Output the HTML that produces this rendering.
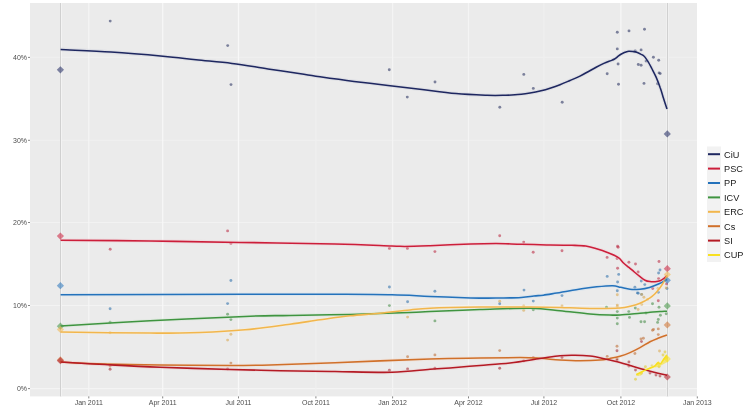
<!DOCTYPE html><html><head><meta charset="utf-8"><style>html,body{margin:0;padding:0;background:#fff;width:750px;height:417px;overflow:hidden}svg{display:block}text{font-family:"Liberation Sans",sans-serif}.g{filter:grayscale(1)}</style></head><body>
<svg width="750" height="417" viewBox="0 0 750 417">
<rect x="30" y="3" width="667" height="393.4" fill="#ebebeb"/>
<line x1="30" x2="697" y1="388.6" y2="388.6" stroke="#f4f4f4" stroke-width="1.2"/>
<line x1="30" x2="697" y1="305.5" y2="305.5" stroke="#f3f3f3" stroke-width="1.2"/>
<line x1="30" x2="697" y1="222.5" y2="222.5" stroke="#f2f2f2" stroke-width="1.2"/>
<line x1="30" x2="697" y1="140.3" y2="140.3" stroke="#efefef" stroke-width="1.2"/>
<line x1="30" x2="697" y1="57.4" y2="57.4" stroke="#efefef" stroke-width="1.2"/>
<line x1="88.8" x2="88.8" y1="3" y2="396.4" stroke="#f5f5f5" stroke-width="1.2"/>
<line x1="162.7" x2="162.7" y1="3" y2="396.4" stroke="#f8f8f8" stroke-width="1.2"/>
<line x1="238.5" x2="238.5" y1="3" y2="396.4" stroke="#f8f8f8" stroke-width="1.2"/>
<line x1="315.9" x2="315.9" y1="3" y2="396.4" stroke="#efefef" stroke-width="1.2"/>
<line x1="392.6" x2="392.6" y1="3" y2="396.4" stroke="#f4f4f4" stroke-width="1.2"/>
<line x1="468.5" x2="468.5" y1="3" y2="396.4" stroke="#f4f4f4" stroke-width="1.2"/>
<line x1="543.9" x2="543.9" y1="3" y2="396.4" stroke="#efefef" stroke-width="1.2"/>
<line x1="620.9" x2="620.9" y1="3" y2="396.4" stroke="#f8f8f8" stroke-width="1.2"/>
<line x1="61.5" x2="61.5" y1="3" y2="396.4" stroke="#f3f3f3" stroke-width="1"/>
<line x1="666.5" x2="666.5" y1="3" y2="396.4" stroke="#f0f0f0" stroke-width="1"/>
<line x1="668.5" x2="668.5" y1="3" y2="396.4" stroke="#f0f0f0" stroke-width="1"/>
<line x1="60.5" x2="60.5" y1="3" y2="396.4" stroke="#d0d0d0" stroke-width="1"/>
<line x1="667.5" x2="667.5" y1="3" y2="396.4" stroke="#d0d0d0" stroke-width="1"/>
<circle cx="110.2" cy="21.1" r="1.45" fill="#303865" fill-opacity="0.6"/>
<circle cx="227.7" cy="45.6" r="1.45" fill="#303865" fill-opacity="0.6"/>
<circle cx="231.0" cy="84.6" r="1.45" fill="#303865" fill-opacity="0.6"/>
<circle cx="389.3" cy="69.8" r="1.45" fill="#303865" fill-opacity="0.6"/>
<circle cx="407.3" cy="97.1" r="1.45" fill="#303865" fill-opacity="0.6"/>
<circle cx="435.0" cy="82.0" r="1.45" fill="#303865" fill-opacity="0.6"/>
<circle cx="499.8" cy="107.3" r="1.45" fill="#303865" fill-opacity="0.6"/>
<circle cx="523.8" cy="74.4" r="1.45" fill="#303865" fill-opacity="0.6"/>
<circle cx="533.3" cy="88.4" r="1.45" fill="#303865" fill-opacity="0.6"/>
<circle cx="562.2" cy="102.3" r="1.45" fill="#303865" fill-opacity="0.6"/>
<circle cx="607.2" cy="73.7" r="1.45" fill="#303865" fill-opacity="0.6"/>
<circle cx="617.3" cy="32.2" r="1.45" fill="#303865" fill-opacity="0.6"/>
<circle cx="629.0" cy="30.9" r="1.45" fill="#303865" fill-opacity="0.6"/>
<circle cx="644.5" cy="29.2" r="1.45" fill="#303865" fill-opacity="0.6"/>
<circle cx="617.3" cy="48.9" r="1.45" fill="#303865" fill-opacity="0.6"/>
<circle cx="618.1" cy="64.0" r="1.45" fill="#303865" fill-opacity="0.6"/>
<circle cx="618.5" cy="84.3" r="1.45" fill="#303865" fill-opacity="0.6"/>
<circle cx="635.2" cy="51.0" r="1.45" fill="#303865" fill-opacity="0.6"/>
<circle cx="641.1" cy="49.9" r="1.45" fill="#303865" fill-opacity="0.6"/>
<circle cx="638.3" cy="64.5" r="1.45" fill="#303865" fill-opacity="0.6"/>
<circle cx="641.1" cy="65.3" r="1.45" fill="#303865" fill-opacity="0.6"/>
<circle cx="644.0" cy="83.4" r="1.45" fill="#303865" fill-opacity="0.6"/>
<circle cx="646.1" cy="61.1" r="1.45" fill="#303865" fill-opacity="0.6"/>
<circle cx="653.4" cy="57.2" r="1.45" fill="#303865" fill-opacity="0.6"/>
<circle cx="658.7" cy="60.3" r="1.45" fill="#303865" fill-opacity="0.6"/>
<circle cx="659.1" cy="72.9" r="1.45" fill="#303865" fill-opacity="0.6"/>
<circle cx="660.2" cy="73.6" r="1.45" fill="#303865" fill-opacity="0.6"/>
<circle cx="657.6" cy="83.8" r="1.45" fill="#303865" fill-opacity="0.6"/>
<circle cx="110.2" cy="249.2" r="1.45" fill="#bc3047" fill-opacity="0.6"/>
<circle cx="227.6" cy="230.9" r="1.45" fill="#bc3047" fill-opacity="0.6"/>
<circle cx="230.9" cy="243.4" r="1.45" fill="#bc3047" fill-opacity="0.6"/>
<circle cx="389.4" cy="248.4" r="1.45" fill="#bc3047" fill-opacity="0.6"/>
<circle cx="407.4" cy="248.4" r="1.45" fill="#bc3047" fill-opacity="0.6"/>
<circle cx="434.9" cy="251.6" r="1.45" fill="#bc3047" fill-opacity="0.6"/>
<circle cx="499.7" cy="235.8" r="1.45" fill="#bc3047" fill-opacity="0.6"/>
<circle cx="523.7" cy="242.1" r="1.45" fill="#bc3047" fill-opacity="0.6"/>
<circle cx="533.2" cy="252.3" r="1.45" fill="#bc3047" fill-opacity="0.6"/>
<circle cx="562.0" cy="250.7" r="1.45" fill="#bc3047" fill-opacity="0.6"/>
<circle cx="607.1" cy="257.4" r="1.45" fill="#bc3047" fill-opacity="0.6"/>
<circle cx="618.1" cy="247.2" r="1.45" fill="#bc3047" fill-opacity="0.6"/>
<circle cx="617.6" cy="246.2" r="1.45" fill="#bc3047" fill-opacity="0.6"/>
<circle cx="617.1" cy="258.5" r="1.45" fill="#bc3047" fill-opacity="0.6"/>
<circle cx="617.6" cy="268.2" r="1.45" fill="#bc3047" fill-opacity="0.6"/>
<circle cx="628.9" cy="262.2" r="1.45" fill="#bc3047" fill-opacity="0.6"/>
<circle cx="635.5" cy="264.0" r="1.45" fill="#bc3047" fill-opacity="0.6"/>
<circle cx="638.1" cy="272.0" r="1.45" fill="#bc3047" fill-opacity="0.6"/>
<circle cx="659.0" cy="261.5" r="1.45" fill="#bc3047" fill-opacity="0.6"/>
<circle cx="658.6" cy="278.6" r="1.45" fill="#bc3047" fill-opacity="0.6"/>
<circle cx="652.7" cy="288.5" r="1.45" fill="#bc3047" fill-opacity="0.6"/>
<circle cx="666.6" cy="283.9" r="1.45" fill="#bc3047" fill-opacity="0.6"/>
<circle cx="658.3" cy="300.8" r="1.45" fill="#bc3047" fill-opacity="0.6"/>
<circle cx="110.1" cy="308.8" r="1.45" fill="#3574ae" fill-opacity="0.6"/>
<circle cx="230.9" cy="280.5" r="1.45" fill="#3574ae" fill-opacity="0.6"/>
<circle cx="227.6" cy="303.6" r="1.45" fill="#3574ae" fill-opacity="0.6"/>
<circle cx="389.4" cy="287.0" r="1.45" fill="#3574ae" fill-opacity="0.6"/>
<circle cx="434.9" cy="291.2" r="1.45" fill="#3574ae" fill-opacity="0.6"/>
<circle cx="407.6" cy="301.7" r="1.45" fill="#3574ae" fill-opacity="0.6"/>
<circle cx="499.7" cy="303.8" r="1.45" fill="#3574ae" fill-opacity="0.6"/>
<circle cx="524.0" cy="290.1" r="1.45" fill="#3574ae" fill-opacity="0.6"/>
<circle cx="533.3" cy="301.1" r="1.45" fill="#3574ae" fill-opacity="0.6"/>
<circle cx="562.0" cy="295.6" r="1.45" fill="#3574ae" fill-opacity="0.6"/>
<circle cx="607.2" cy="276.4" r="1.45" fill="#3574ae" fill-opacity="0.6"/>
<circle cx="618.7" cy="274.4" r="1.45" fill="#3574ae" fill-opacity="0.6"/>
<circle cx="617.6" cy="282.0" r="1.45" fill="#3574ae" fill-opacity="0.6"/>
<circle cx="617.3" cy="290.8" r="1.45" fill="#3574ae" fill-opacity="0.6"/>
<circle cx="660.0" cy="270.0" r="1.45" fill="#3574ae" fill-opacity="0.6"/>
<circle cx="658.6" cy="273.0" r="1.45" fill="#3574ae" fill-opacity="0.6"/>
<circle cx="641.3" cy="281.0" r="1.45" fill="#3574ae" fill-opacity="0.6"/>
<circle cx="644.8" cy="284.6" r="1.45" fill="#3574ae" fill-opacity="0.6"/>
<circle cx="634.9" cy="287.2" r="1.45" fill="#3574ae" fill-opacity="0.6"/>
<circle cx="638.2" cy="293.2" r="1.45" fill="#3574ae" fill-opacity="0.6"/>
<circle cx="641.6" cy="294.4" r="1.45" fill="#3574ae" fill-opacity="0.6"/>
<circle cx="637.4" cy="292.9" r="1.45" fill="#3574ae" fill-opacity="0.6"/>
<circle cx="667.0" cy="288.5" r="1.45" fill="#3574ae" fill-opacity="0.6"/>
<circle cx="658.3" cy="292.2" r="1.45" fill="#3574ae" fill-opacity="0.6"/>
<circle cx="110.1" cy="322.3" r="1.45" fill="#4b8f4c" fill-opacity="0.6"/>
<circle cx="227.6" cy="314.2" r="1.45" fill="#4b8f4c" fill-opacity="0.6"/>
<circle cx="230.9" cy="319.6" r="1.45" fill="#4b8f4c" fill-opacity="0.6"/>
<circle cx="389.4" cy="305.6" r="1.45" fill="#4b8f4c" fill-opacity="0.6"/>
<circle cx="434.9" cy="320.9" r="1.45" fill="#4b8f4c" fill-opacity="0.6"/>
<circle cx="533.3" cy="309.8" r="1.45" fill="#4b8f4c" fill-opacity="0.6"/>
<circle cx="606.5" cy="307.3" r="1.45" fill="#4b8f4c" fill-opacity="0.6"/>
<circle cx="617.3" cy="311.6" r="1.45" fill="#4b8f4c" fill-opacity="0.6"/>
<circle cx="617.3" cy="318.1" r="1.45" fill="#4b8f4c" fill-opacity="0.6"/>
<circle cx="617.3" cy="323.8" r="1.45" fill="#4b8f4c" fill-opacity="0.6"/>
<circle cx="628.8" cy="311.6" r="1.45" fill="#4b8f4c" fill-opacity="0.6"/>
<circle cx="629.5" cy="317.4" r="1.45" fill="#4b8f4c" fill-opacity="0.6"/>
<circle cx="635.3" cy="308.0" r="1.45" fill="#4b8f4c" fill-opacity="0.6"/>
<circle cx="641.0" cy="321.7" r="1.45" fill="#4b8f4c" fill-opacity="0.6"/>
<circle cx="644.6" cy="321.7" r="1.45" fill="#4b8f4c" fill-opacity="0.6"/>
<circle cx="646.0" cy="313.0" r="1.45" fill="#4b8f4c" fill-opacity="0.6"/>
<circle cx="652.5" cy="303.7" r="1.45" fill="#4b8f4c" fill-opacity="0.6"/>
<circle cx="659.0" cy="307.3" r="1.45" fill="#4b8f4c" fill-opacity="0.6"/>
<circle cx="660.4" cy="315.2" r="1.45" fill="#4b8f4c" fill-opacity="0.6"/>
<circle cx="658.3" cy="319.5" r="1.45" fill="#4b8f4c" fill-opacity="0.6"/>
<circle cx="657.6" cy="322.4" r="1.45" fill="#4b8f4c" fill-opacity="0.6"/>
<circle cx="666.2" cy="313.8" r="1.45" fill="#4b8f4c" fill-opacity="0.6"/>
<circle cx="110.1" cy="332.7" r="1.45" fill="#daaa55" fill-opacity="0.6"/>
<circle cx="227.6" cy="340.1" r="1.45" fill="#daaa55" fill-opacity="0.6"/>
<circle cx="230.9" cy="334.3" r="1.45" fill="#daaa55" fill-opacity="0.6"/>
<circle cx="407.6" cy="317.1" r="1.45" fill="#daaa55" fill-opacity="0.6"/>
<circle cx="499.7" cy="301.2" r="1.45" fill="#daaa55" fill-opacity="0.6"/>
<circle cx="523.7" cy="305.9" r="1.45" fill="#daaa55" fill-opacity="0.6"/>
<circle cx="523.7" cy="310.4" r="1.45" fill="#daaa55" fill-opacity="0.6"/>
<circle cx="562.0" cy="305.9" r="1.45" fill="#daaa55" fill-opacity="0.6"/>
<circle cx="617.3" cy="294.8" r="1.45" fill="#daaa55" fill-opacity="0.6"/>
<circle cx="617.3" cy="305.1" r="1.45" fill="#daaa55" fill-opacity="0.6"/>
<circle cx="617.3" cy="306.6" r="1.45" fill="#daaa55" fill-opacity="0.6"/>
<circle cx="638.1" cy="309.5" r="1.45" fill="#daaa55" fill-opacity="0.6"/>
<circle cx="643.9" cy="297.2" r="1.45" fill="#daaa55" fill-opacity="0.6"/>
<circle cx="641.7" cy="304.4" r="1.45" fill="#daaa55" fill-opacity="0.6"/>
<circle cx="647.5" cy="299.4" r="1.45" fill="#daaa55" fill-opacity="0.6"/>
<circle cx="658.0" cy="288.5" r="1.45" fill="#daaa55" fill-opacity="0.6"/>
<circle cx="641.7" cy="294.4" r="1.45" fill="#daaa55" fill-opacity="0.6"/>
<circle cx="666.2" cy="287.9" r="1.45" fill="#daaa55" fill-opacity="0.6"/>
<circle cx="659.5" cy="351.0" r="1.45" fill="#daaa55" fill-opacity="0.6"/>
<circle cx="110.1" cy="366.0" r="1.45" fill="#bf723a" fill-opacity="0.6"/>
<circle cx="230.9" cy="363.1" r="1.45" fill="#bf723a" fill-opacity="0.6"/>
<circle cx="407.6" cy="356.8" r="1.45" fill="#bf723a" fill-opacity="0.6"/>
<circle cx="434.9" cy="354.9" r="1.45" fill="#bf723a" fill-opacity="0.6"/>
<circle cx="499.7" cy="350.6" r="1.45" fill="#bf723a" fill-opacity="0.6"/>
<circle cx="617.0" cy="346.2" r="1.45" fill="#bf723a" fill-opacity="0.6"/>
<circle cx="617.0" cy="358.7" r="1.45" fill="#bf723a" fill-opacity="0.6"/>
<circle cx="607.2" cy="356.4" r="1.45" fill="#bf723a" fill-opacity="0.6"/>
<circle cx="643.4" cy="338.3" r="1.45" fill="#bf723a" fill-opacity="0.6"/>
<circle cx="658.3" cy="328.9" r="1.45" fill="#bf723a" fill-opacity="0.6"/>
<circle cx="658.3" cy="334.6" r="1.45" fill="#bf723a" fill-opacity="0.6"/>
<circle cx="652.5" cy="330.3" r="1.45" fill="#bf723a" fill-opacity="0.6"/>
<circle cx="634.9" cy="353.5" r="1.45" fill="#bf723a" fill-opacity="0.6"/>
<circle cx="653.5" cy="329.5" r="1.45" fill="#bf723a" fill-opacity="0.6"/>
<circle cx="641.0" cy="339.0" r="1.45" fill="#bf723a" fill-opacity="0.6"/>
<circle cx="110.1" cy="369.2" r="1.45" fill="#a82d35" fill-opacity="0.6"/>
<circle cx="227.6" cy="368.9" r="1.45" fill="#a82d35" fill-opacity="0.6"/>
<circle cx="389.4" cy="370.2" r="1.45" fill="#a82d35" fill-opacity="0.6"/>
<circle cx="407.6" cy="368.9" r="1.45" fill="#a82d35" fill-opacity="0.6"/>
<circle cx="434.9" cy="368.3" r="1.45" fill="#a82d35" fill-opacity="0.6"/>
<circle cx="499.7" cy="368.2" r="1.45" fill="#a82d35" fill-opacity="0.6"/>
<circle cx="523.7" cy="360.9" r="1.45" fill="#a82d35" fill-opacity="0.6"/>
<circle cx="533.3" cy="357.6" r="1.45" fill="#a82d35" fill-opacity="0.6"/>
<circle cx="562.0" cy="357.6" r="1.45" fill="#a82d35" fill-opacity="0.6"/>
<circle cx="617.0" cy="350.8" r="1.45" fill="#a82d35" fill-opacity="0.6"/>
<circle cx="617.0" cy="360.0" r="1.45" fill="#a82d35" fill-opacity="0.6"/>
<circle cx="628.9" cy="362.0" r="1.45" fill="#a82d35" fill-opacity="0.6"/>
<circle cx="628.9" cy="366.0" r="1.45" fill="#a82d35" fill-opacity="0.6"/>
<circle cx="635.5" cy="370.0" r="1.45" fill="#a82d35" fill-opacity="0.6"/>
<circle cx="641.5" cy="341.6" r="1.45" fill="#a82d35" fill-opacity="0.6"/>
<circle cx="650.0" cy="373.0" r="1.45" fill="#a82d35" fill-opacity="0.6"/>
<circle cx="656.0" cy="375.0" r="1.45" fill="#a82d35" fill-opacity="0.6"/>
<circle cx="660.0" cy="376.0" r="1.45" fill="#a82d35" fill-opacity="0.6"/>
<circle cx="635.5" cy="379.2" r="1.45" fill="#dfcc32" fill-opacity="0.6"/>
<circle cx="637.5" cy="374.6" r="1.45" fill="#dfcc32" fill-opacity="0.6"/>
<circle cx="641.5" cy="373.3" r="1.45" fill="#dfcc32" fill-opacity="0.6"/>
<circle cx="645.4" cy="366.7" r="1.45" fill="#dfcc32" fill-opacity="0.6"/>
<circle cx="652.0" cy="366.0" r="1.45" fill="#dfcc32" fill-opacity="0.6"/>
<circle cx="658.1" cy="363.8" r="1.45" fill="#dfcc32" fill-opacity="0.6"/>
<circle cx="659.0" cy="366.7" r="1.45" fill="#dfcc32" fill-opacity="0.6"/>
<circle cx="663.0" cy="355.0" r="1.45" fill="#dfcc32" fill-opacity="0.6"/>
<circle cx="665.0" cy="352.0" r="1.45" fill="#dfcc32" fill-opacity="0.6"/>
<circle cx="666.7" cy="357.4" r="1.45" fill="#dfcc32" fill-opacity="0.6"/>
<path d="M60.6 49.4 C69.0 49.9 93.9 51.0 111.0 52.1 C128.1 53.2 148.8 55.0 163.0 56.3 C177.2 57.6 184.5 58.6 196.0 59.8 C207.5 61.0 220.0 61.9 232.0 63.4 C244.0 64.9 256.0 67.1 268.0 68.9 C280.0 70.7 295.2 72.9 303.9 74.2 C312.6 75.5 311.6 75.6 320.0 76.8 C328.4 78.0 342.7 80.0 354.0 81.4 C365.3 82.8 376.7 84.1 388.0 85.4 C399.3 86.8 410.7 88.1 422.0 89.5 C433.3 90.9 445.2 92.6 456.0 93.6 C466.8 94.6 478.9 95.0 487.0 95.3 C495.1 95.6 500.0 95.4 504.7 95.3 C509.4 95.2 510.8 95.2 515.0 94.8 C519.2 94.4 525.8 93.5 530.0 92.9 C534.2 92.3 536.7 91.9 540.0 91.1 C543.3 90.3 546.7 89.4 550.0 88.3 C553.3 87.2 556.7 86.0 560.0 84.7 C563.3 83.4 566.7 81.9 570.0 80.5 C573.3 79.1 576.8 77.7 580.0 76.1 C583.2 74.5 586.6 72.5 589.4 71.0 C592.2 69.5 594.2 68.3 596.6 67.0 C599.0 65.7 601.4 64.5 603.8 63.4 C606.2 62.3 609.2 61.3 611.0 60.6 C612.8 59.9 613.4 59.7 614.6 59.0 C615.8 58.3 617.0 57.1 618.2 56.2 C619.4 55.3 620.7 54.4 621.8 53.8 C622.9 53.1 623.8 52.7 625.0 52.3 C626.2 51.9 627.5 51.3 628.8 51.2 C630.1 51.1 631.5 51.3 632.8 51.5 C634.1 51.7 635.4 51.8 636.7 52.2 C638.0 52.6 639.5 53.4 640.7 54.1 C642.0 54.8 643.1 55.1 644.2 56.2 C645.4 57.3 646.3 58.9 647.6 60.9 C648.9 62.9 650.4 65.8 651.8 68.5 C653.2 71.2 654.6 73.7 656.0 76.9 C657.4 80.1 659.0 84.2 660.2 87.8 C661.5 91.3 662.4 94.7 663.5 98.2 C664.6 101.7 666.4 107.2 667.0 109.0" fill="none" stroke="#c7c9d7" stroke-width="3.6" stroke-opacity="0.35" stroke-linejoin="round"/>
<path d="M60.6 240.2 C75.5 240.3 120.1 240.6 150.0 241.0 C179.9 241.4 209.2 241.9 240.0 242.4 C270.8 242.9 309.7 243.4 335.0 244.0 C360.3 244.6 380.3 245.6 391.9 246.0 C403.5 246.4 398.2 246.4 404.6 246.4 C411.0 246.4 419.0 246.1 430.0 245.7 C441.0 245.3 459.6 244.4 470.6 244.0 C481.6 243.6 487.6 243.5 496.0 243.5 C504.4 243.5 512.9 244.1 521.3 244.3 C529.7 244.5 538.2 244.7 546.6 244.9 C555.0 245.0 565.4 245.1 571.9 245.3 C578.4 245.5 581.7 245.5 585.8 246.1 C589.9 246.7 593.0 247.7 596.6 248.8 C600.2 249.9 603.8 251.1 607.4 252.5 C611.0 253.9 615.4 255.6 618.1 257.4 C620.8 259.1 621.7 261.3 623.5 263.0 C625.3 264.7 627.1 265.9 628.9 267.4 C630.7 268.9 632.5 270.5 634.3 272.0 C636.1 273.5 637.9 275.0 639.7 276.4 C641.5 277.8 643.3 279.3 645.0 280.2 C646.7 281.1 648.3 281.4 650.0 281.6 C651.7 281.9 653.3 281.9 655.0 281.7 C656.7 281.5 658.5 281.3 660.0 280.7 C661.5 280.1 662.8 279.1 664.0 278.3 C665.2 277.5 666.5 276.1 667.0 275.6" fill="none" stroke="#f2c7ce" stroke-width="3.6" stroke-opacity="0.35" stroke-linejoin="round"/>
<path d="M60.6 294.8 C91.3 294.7 199.3 294.4 245.0 294.3 C290.7 294.2 310.5 294.2 335.0 294.3 C359.5 294.4 376.2 294.4 392.0 294.8 C407.8 295.1 416.9 295.9 430.0 296.4 C443.1 296.9 459.6 297.6 470.6 297.9 C481.6 298.2 487.6 298.2 496.0 298.1 C504.4 298.0 515.0 297.8 521.3 297.4 C527.6 297.0 530.2 296.3 533.9 295.9 C537.6 295.5 539.5 295.7 543.3 295.2 C547.1 294.7 552.2 293.8 556.7 293.1 C561.2 292.4 565.6 291.6 570.0 290.8 C574.4 290.1 578.8 289.3 583.3 288.6 C587.8 287.9 591.8 287.3 596.7 286.8 C601.6 286.3 608.7 285.6 612.7 285.7 C616.7 285.8 617.8 286.7 620.7 287.3 C623.6 287.9 626.8 289.0 630.0 289.3 C633.2 289.6 636.8 289.5 640.0 289.2 C643.2 288.9 646.3 288.3 649.5 287.4 C652.7 286.5 656.1 285.1 659.0 283.8 C661.9 282.5 665.7 280.2 667.0 279.5" fill="none" stroke="#c8dcee" stroke-width="3.6" stroke-opacity="0.35" stroke-linejoin="round"/>
<path d="M60.6 325.9 C75.5 325.1 119.3 322.4 150.0 320.8 C180.7 319.2 221.7 317.3 245.0 316.4 C268.3 315.5 272.5 315.8 290.0 315.4 C307.5 315.1 330.0 314.9 350.0 314.4 C370.0 313.9 396.7 313.0 410.0 312.5 C423.3 312.0 418.3 312.0 430.0 311.5 C441.7 311.0 463.3 310.1 480.0 309.6 C496.7 309.1 516.7 308.1 530.0 308.3 C543.3 308.5 550.0 309.7 560.0 310.7 C570.0 311.7 581.7 313.4 590.0 314.1 C598.3 314.8 605.0 315.0 610.0 315.1 C615.0 315.2 615.0 315.2 620.0 314.9 C625.0 314.6 635.0 313.7 640.0 313.3 C645.0 312.9 646.7 312.6 650.0 312.3 C653.3 312.0 657.2 311.8 660.0 311.6 C662.8 311.4 665.8 311.3 667.0 311.2" fill="none" stroke="#cfe4cf" stroke-width="3.6" stroke-opacity="0.35" stroke-linejoin="round"/>
<path d="M60.6 332.0 C75.5 332.2 126.8 333.0 150.0 333.1 C173.2 333.2 184.2 333.0 200.0 332.4 C215.8 331.9 230.0 331.2 245.0 329.8 C260.0 328.4 277.5 325.8 290.0 324.2 C302.5 322.5 310.0 321.2 320.0 319.8 C330.0 318.4 340.0 316.9 350.0 315.8 C360.0 314.7 370.0 314.2 380.0 313.2 C390.0 312.2 401.7 310.7 410.0 309.9 C418.3 309.1 418.3 308.7 430.0 308.2 C441.7 307.7 463.3 307.3 480.0 307.1 C496.7 306.9 516.7 306.8 530.0 306.9 C543.3 307.0 550.0 307.2 560.0 307.5 C570.0 307.8 580.0 308.3 590.0 308.4 C600.0 308.5 613.3 308.4 620.0 308.0 C626.7 307.6 626.7 307.1 630.0 306.3 C633.3 305.5 636.7 304.7 640.0 303.3 C643.3 301.9 647.5 299.4 650.0 297.8 C652.5 296.2 653.3 295.4 655.0 293.7 C656.7 292.0 658.3 290.0 660.0 287.7 C661.7 285.4 663.8 281.9 665.0 279.8 C666.2 277.7 666.7 276.0 667.0 275.2" fill="none" stroke="#fcedd2" stroke-width="3.6" stroke-opacity="0.35" stroke-linejoin="round"/>
<path d="M60.6 362.0 C68.0 362.4 88.4 363.6 105.0 364.1 C121.6 364.6 139.2 364.9 160.0 365.1 C180.8 365.3 211.7 365.5 230.0 365.5 C248.3 365.5 252.5 365.5 270.0 365.0 C287.5 364.5 308.3 363.7 335.0 362.7 C361.7 361.7 405.8 359.7 430.0 358.9 C454.2 358.1 465.0 358.3 480.0 358.1 C495.0 357.9 510.0 357.6 520.0 357.6 C530.0 357.6 533.3 357.9 540.0 358.3 C546.7 358.7 553.3 359.6 560.0 360.0 C566.7 360.4 573.3 360.7 580.0 360.7 C586.7 360.7 595.0 360.4 600.0 360.0 C605.0 359.6 606.7 359.0 610.0 358.4 C613.3 357.8 616.7 357.2 620.0 356.2 C623.3 355.2 626.7 354.0 630.0 352.6 C633.3 351.2 636.7 349.4 640.0 347.6 C643.3 345.8 647.0 343.4 650.0 341.8 C653.0 340.2 655.2 339.4 658.0 338.3 C660.8 337.2 665.5 335.6 667.0 335.1" fill="none" stroke="#f3dbca" stroke-width="3.6" stroke-opacity="0.35" stroke-linejoin="round"/>
<path d="M60.6 362.0 C68.0 362.4 88.4 363.7 105.0 364.6 C121.6 365.5 139.2 366.5 160.0 367.3 C180.8 368.1 210.0 368.8 230.0 369.4 C250.0 370.0 262.5 370.3 280.0 370.7 C297.5 371.1 316.3 371.2 335.0 371.5 C353.7 371.8 376.2 372.7 392.0 372.3 C407.8 371.9 420.3 370.0 430.0 369.3 C439.7 368.6 441.7 368.5 450.0 367.9 C458.3 367.3 470.0 366.3 480.0 365.5 C490.0 364.7 500.0 364.1 510.0 363.0 C520.0 361.9 531.7 359.8 540.0 358.6 C548.3 357.4 554.2 356.3 560.0 355.7 C565.8 355.1 570.0 355.1 575.0 355.2 C580.0 355.2 585.0 355.4 590.0 356.0 C595.0 356.6 600.0 357.8 605.0 358.9 C610.0 360.0 615.8 361.3 620.0 362.4 C624.2 363.5 626.7 364.4 630.0 365.4 C633.3 366.4 635.8 367.2 640.0 368.4 C644.2 369.6 650.5 371.2 655.0 372.4 C659.5 373.6 665.0 374.9 667.0 375.4" fill="none" stroke="#ecc6c8" stroke-width="3.6" stroke-opacity="0.35" stroke-linejoin="round"/>
<path d="M636.3 374.8 C637.1 374.4 639.4 373.2 641.0 372.3 C642.6 371.4 644.5 370.4 646.2 369.6 C647.9 368.9 649.6 368.4 651.0 367.8 C652.4 367.2 653.6 366.8 654.8 366.0 C656.0 365.2 657.0 363.2 658.0 362.8 C659.0 362.4 659.6 364.4 660.5 363.8 C661.4 363.2 662.5 360.9 663.5 359.5 C664.5 358.1 666.2 356.0 666.8 355.3" fill="none" stroke="#fdf7c7" stroke-width="3.6" stroke-opacity="0.35" stroke-linejoin="round"/>
<path d="M60.6 49.4 C69.0 49.9 93.9 51.0 111.0 52.1 C128.1 53.2 148.8 55.0 163.0 56.3 C177.2 57.6 184.5 58.6 196.0 59.8 C207.5 61.0 220.0 61.9 232.0 63.4 C244.0 64.9 256.0 67.1 268.0 68.9 C280.0 70.7 295.2 72.9 303.9 74.2 C312.6 75.5 311.6 75.6 320.0 76.8 C328.4 78.0 342.7 80.0 354.0 81.4 C365.3 82.8 376.7 84.1 388.0 85.4 C399.3 86.8 410.7 88.1 422.0 89.5 C433.3 90.9 445.2 92.6 456.0 93.6 C466.8 94.6 478.9 95.0 487.0 95.3 C495.1 95.6 500.0 95.4 504.7 95.3 C509.4 95.2 510.8 95.2 515.0 94.8 C519.2 94.4 525.8 93.5 530.0 92.9 C534.2 92.3 536.7 91.9 540.0 91.1 C543.3 90.3 546.7 89.4 550.0 88.3 C553.3 87.2 556.7 86.0 560.0 84.7 C563.3 83.4 566.7 81.9 570.0 80.5 C573.3 79.1 576.8 77.7 580.0 76.1 C583.2 74.5 586.6 72.5 589.4 71.0 C592.2 69.5 594.2 68.3 596.6 67.0 C599.0 65.7 601.4 64.5 603.8 63.4 C606.2 62.3 609.2 61.3 611.0 60.6 C612.8 59.9 613.4 59.7 614.6 59.0 C615.8 58.3 617.0 57.1 618.2 56.2 C619.4 55.3 620.7 54.4 621.8 53.8 C622.9 53.1 623.8 52.7 625.0 52.3 C626.2 51.9 627.5 51.3 628.8 51.2 C630.1 51.1 631.5 51.3 632.8 51.5 C634.1 51.7 635.4 51.8 636.7 52.2 C638.0 52.6 639.5 53.4 640.7 54.1 C642.0 54.8 643.1 55.1 644.2 56.2 C645.4 57.3 646.3 58.9 647.6 60.9 C648.9 62.9 650.4 65.8 651.8 68.5 C653.2 71.2 654.6 73.7 656.0 76.9 C657.4 80.1 659.0 84.2 660.2 87.8 C661.5 91.3 662.4 94.7 663.5 98.2 C664.6 101.7 666.4 107.2 667.0 109.0" fill="none" stroke="#1e2760" stroke-width="1.55" stroke-linejoin="round"/>
<path d="M60.6 240.2 C75.5 240.3 120.1 240.6 150.0 241.0 C179.9 241.4 209.2 241.9 240.0 242.4 C270.8 242.9 309.7 243.4 335.0 244.0 C360.3 244.6 380.3 245.6 391.9 246.0 C403.5 246.4 398.2 246.4 404.6 246.4 C411.0 246.4 419.0 246.1 430.0 245.7 C441.0 245.3 459.6 244.4 470.6 244.0 C481.6 243.6 487.6 243.5 496.0 243.5 C504.4 243.5 512.9 244.1 521.3 244.3 C529.7 244.5 538.2 244.7 546.6 244.9 C555.0 245.0 565.4 245.1 571.9 245.3 C578.4 245.5 581.7 245.5 585.8 246.1 C589.9 246.7 593.0 247.7 596.6 248.8 C600.2 249.9 603.8 251.1 607.4 252.5 C611.0 253.9 615.4 255.6 618.1 257.4 C620.8 259.1 621.7 261.3 623.5 263.0 C625.3 264.7 627.1 265.9 628.9 267.4 C630.7 268.9 632.5 270.5 634.3 272.0 C636.1 273.5 637.9 275.0 639.7 276.4 C641.5 277.8 643.3 279.3 645.0 280.2 C646.7 281.1 648.3 281.4 650.0 281.6 C651.7 281.9 653.3 281.9 655.0 281.7 C656.7 281.5 658.5 281.3 660.0 280.7 C661.5 280.1 662.8 279.1 664.0 278.3 C665.2 277.5 666.5 276.1 667.0 275.6" fill="none" stroke="#cc1e3a" stroke-width="1.55" stroke-linejoin="round"/>
<path d="M60.6 294.8 C91.3 294.7 199.3 294.4 245.0 294.3 C290.7 294.2 310.5 294.2 335.0 294.3 C359.5 294.4 376.2 294.4 392.0 294.8 C407.8 295.1 416.9 295.9 430.0 296.4 C443.1 296.9 459.6 297.6 470.6 297.9 C481.6 298.2 487.6 298.2 496.0 298.1 C504.4 298.0 515.0 297.8 521.3 297.4 C527.6 297.0 530.2 296.3 533.9 295.9 C537.6 295.5 539.5 295.7 543.3 295.2 C547.1 294.7 552.2 293.8 556.7 293.1 C561.2 292.4 565.6 291.6 570.0 290.8 C574.4 290.1 578.8 289.3 583.3 288.6 C587.8 287.9 591.8 287.3 596.7 286.8 C601.6 286.3 608.7 285.6 612.7 285.7 C616.7 285.8 617.8 286.7 620.7 287.3 C623.6 287.9 626.8 289.0 630.0 289.3 C633.2 289.6 636.8 289.5 640.0 289.2 C643.2 288.9 646.3 288.3 649.5 287.4 C652.7 286.5 656.1 285.1 659.0 283.8 C661.9 282.5 665.7 280.2 667.0 279.5" fill="none" stroke="#2472bb" stroke-width="1.55" stroke-linejoin="round"/>
<path d="M60.6 325.9 C75.5 325.1 119.3 322.4 150.0 320.8 C180.7 319.2 221.7 317.3 245.0 316.4 C268.3 315.5 272.5 315.8 290.0 315.4 C307.5 315.1 330.0 314.9 350.0 314.4 C370.0 313.9 396.7 313.0 410.0 312.5 C423.3 312.0 418.3 312.0 430.0 311.5 C441.7 311.0 463.3 310.1 480.0 309.6 C496.7 309.1 516.7 308.1 530.0 308.3 C543.3 308.5 550.0 309.7 560.0 310.7 C570.0 311.7 581.7 313.4 590.0 314.1 C598.3 314.8 605.0 315.0 610.0 315.1 C615.0 315.2 615.0 315.2 620.0 314.9 C625.0 314.6 635.0 313.7 640.0 313.3 C645.0 312.9 646.7 312.6 650.0 312.3 C653.3 312.0 657.2 311.8 660.0 311.6 C662.8 311.4 665.8 311.3 667.0 311.2" fill="none" stroke="#3f9440" stroke-width="1.55" stroke-linejoin="round"/>
<path d="M60.6 332.0 C75.5 332.2 126.8 333.0 150.0 333.1 C173.2 333.2 184.2 333.0 200.0 332.4 C215.8 331.9 230.0 331.2 245.0 329.8 C260.0 328.4 277.5 325.8 290.0 324.2 C302.5 322.5 310.0 321.2 320.0 319.8 C330.0 318.4 340.0 316.9 350.0 315.8 C360.0 314.7 370.0 314.2 380.0 313.2 C390.0 312.2 401.7 310.7 410.0 309.9 C418.3 309.1 418.3 308.7 430.0 308.2 C441.7 307.7 463.3 307.3 480.0 307.1 C496.7 306.9 516.7 306.8 530.0 306.9 C543.3 307.0 550.0 307.2 560.0 307.5 C570.0 307.8 580.0 308.3 590.0 308.4 C600.0 308.5 613.3 308.4 620.0 308.0 C626.7 307.6 626.7 307.1 630.0 306.3 C633.3 305.5 636.7 304.7 640.0 303.3 C643.3 301.9 647.5 299.4 650.0 297.8 C652.5 296.2 653.3 295.4 655.0 293.7 C656.7 292.0 658.3 290.0 660.0 287.7 C661.7 285.4 663.8 281.9 665.0 279.8 C666.2 277.7 666.7 276.0 667.0 275.2" fill="none" stroke="#f2b64c" stroke-width="1.55" stroke-linejoin="round"/>
<path d="M60.6 362.0 C68.0 362.4 88.4 363.6 105.0 364.1 C121.6 364.6 139.2 364.9 160.0 365.1 C180.8 365.3 211.7 365.5 230.0 365.5 C248.3 365.5 252.5 365.5 270.0 365.0 C287.5 364.5 308.3 363.7 335.0 362.7 C361.7 361.7 405.8 359.7 430.0 358.9 C454.2 358.1 465.0 358.3 480.0 358.1 C495.0 357.9 510.0 357.6 520.0 357.6 C530.0 357.6 533.3 357.9 540.0 358.3 C546.7 358.7 553.3 359.6 560.0 360.0 C566.7 360.4 573.3 360.7 580.0 360.7 C586.7 360.7 595.0 360.4 600.0 360.0 C605.0 359.6 606.7 359.0 610.0 358.4 C613.3 357.8 616.7 357.2 620.0 356.2 C623.3 355.2 626.7 354.0 630.0 352.6 C633.3 351.2 636.7 349.4 640.0 347.6 C643.3 345.8 647.0 343.4 650.0 341.8 C653.0 340.2 655.2 339.4 658.0 338.3 C660.8 337.2 665.5 335.6 667.0 335.1" fill="none" stroke="#d0702a" stroke-width="1.55" stroke-linejoin="round"/>
<path d="M60.6 362.0 C68.0 362.4 88.4 363.7 105.0 364.6 C121.6 365.5 139.2 366.5 160.0 367.3 C180.8 368.1 210.0 368.8 230.0 369.4 C250.0 370.0 262.5 370.3 280.0 370.7 C297.5 371.1 316.3 371.2 335.0 371.5 C353.7 371.8 376.2 372.7 392.0 372.3 C407.8 371.9 420.3 370.0 430.0 369.3 C439.7 368.6 441.7 368.5 450.0 367.9 C458.3 367.3 470.0 366.3 480.0 365.5 C490.0 364.7 500.0 364.1 510.0 363.0 C520.0 361.9 531.7 359.8 540.0 358.6 C548.3 357.4 554.2 356.3 560.0 355.7 C565.8 355.1 570.0 355.1 575.0 355.2 C580.0 355.2 585.0 355.4 590.0 356.0 C595.0 356.6 600.0 357.8 605.0 358.9 C610.0 360.0 615.8 361.3 620.0 362.4 C624.2 363.5 626.7 364.4 630.0 365.4 C633.3 366.4 635.8 367.2 640.0 368.4 C644.2 369.6 650.5 371.2 655.0 372.4 C659.5 373.6 665.0 374.9 667.0 375.4" fill="none" stroke="#b41a24" stroke-width="1.55" stroke-linejoin="round"/>
<path d="M636.3 374.8 C637.1 374.4 639.4 373.2 641.0 372.3 C642.6 371.4 644.5 370.4 646.2 369.6 C647.9 368.9 649.6 368.4 651.0 367.8 C652.4 367.2 653.6 366.8 654.8 366.0 C656.0 365.2 657.0 363.2 658.0 362.8 C659.0 362.4 659.6 364.4 660.5 363.8 C661.4 363.2 662.5 360.9 663.5 359.5 C664.5 358.1 666.2 356.0 666.8 355.3" fill="none" stroke="#f8e020" stroke-width="1.55" stroke-linejoin="round"/>
<path d="M654.5 367.5L658.3 360.8L661.2 366.5Z M660 366L666.5 353.5L668.5 361.5Z M637 376L644 370.5L641 375.5Z" fill="#f8e020" fill-opacity="0.55"/>
<path d="M60.4 66.2L64.0 69.8L60.4 73.4L56.8 69.8Z" fill="#1e2760" fill-opacity="0.55"/>
<path d="M60.4 232.5L64.0 236.1L60.4 239.7L56.8 236.1Z" fill="#cc1e3a" fill-opacity="0.55"/>
<path d="M60.4 282.1L64.0 285.7L60.4 289.3L56.8 285.7Z" fill="#2472bb" fill-opacity="0.55"/>
<path d="M60.4 322.6L64.0 326.2L60.4 329.8L56.8 326.2Z" fill="#3f9440" fill-opacity="0.55"/>
<path d="M60.4 325.9L64.0 329.5L60.4 333.1L56.8 329.5Z" fill="#f2b64c" fill-opacity="0.55"/>
<path d="M60.4 356.3L64.0 359.9L60.4 363.5L56.8 359.9Z" fill="#d0702a" fill-opacity="0.55"/>
<path d="M60.4 357.1L64.0 360.7L60.4 364.3L56.8 360.7Z" fill="#b41a24" fill-opacity="0.55"/>
<path d="M667.3 130.3L670.9 133.9L667.3 137.5L663.7 133.9Z" fill="#1e2760" fill-opacity="0.55"/>
<path d="M667.3 265.1L670.9 268.7L667.3 272.3L663.7 268.7Z" fill="#cc1e3a" fill-opacity="0.55"/>
<path d="M667.3 276.7L670.9 280.3L667.3 283.9L663.7 280.3Z" fill="#2472bb" fill-opacity="0.55"/>
<path d="M667.3 302.3L670.9 305.9L667.3 309.5L663.7 305.9Z" fill="#3f9440" fill-opacity="0.55"/>
<path d="M667.3 270.9L670.9 274.5L667.3 278.1L663.7 274.5Z" fill="#f2b64c" fill-opacity="0.55"/>
<path d="M667.3 321.3L670.9 324.9L667.3 328.5L663.7 324.9Z" fill="#d0702a" fill-opacity="0.55"/>
<path d="M667.3 373.4L670.9 377.0L667.3 380.6L663.7 377.0Z" fill="#b41a24" fill-opacity="0.55"/>
<path d="M667.3 355.3L670.9 358.9L667.3 362.5L663.7 358.9Z" fill="#f8e020" fill-opacity="0.55"/>
<g class="g">
<line x1="28" x2="30" y1="388.6" y2="388.6" stroke="#333" stroke-width="0.6"/>
<text x="27" y="391" font-size="7" fill="#4d4d4d" text-anchor="end">0%</text>
<line x1="28" x2="30" y1="305.5" y2="305.5" stroke="#333" stroke-width="0.6"/>
<text x="27" y="308" font-size="7" fill="#4d4d4d" text-anchor="end">10%</text>
<line x1="28" x2="30" y1="222.5" y2="222.5" stroke="#333" stroke-width="0.6"/>
<text x="27" y="225" font-size="7" fill="#4d4d4d" text-anchor="end">20%</text>
<line x1="28" x2="30" y1="140.3" y2="140.3" stroke="#333" stroke-width="0.6"/>
<text x="27" y="143" font-size="7" fill="#4d4d4d" text-anchor="end">30%</text>
<line x1="28" x2="30" y1="57.4" y2="57.4" stroke="#333" stroke-width="0.6"/>
<text x="27" y="60" font-size="7" fill="#4d4d4d" text-anchor="end">40%</text>
<line x1="88.8" x2="88.8" y1="396.4" y2="398.4" stroke="#333" stroke-width="0.6"/>
<text x="88.8" y="405" font-size="7" fill="#4d4d4d" text-anchor="middle">Jan 2011</text>
<line x1="162.7" x2="162.7" y1="396.4" y2="398.4" stroke="#333" stroke-width="0.6"/>
<text x="162.7" y="405" font-size="7" fill="#4d4d4d" text-anchor="middle">Apr 2011</text>
<line x1="238.5" x2="238.5" y1="396.4" y2="398.4" stroke="#333" stroke-width="0.6"/>
<text x="238.5" y="405" font-size="7" fill="#4d4d4d" text-anchor="middle">Jul 2011</text>
<line x1="315.9" x2="315.9" y1="396.4" y2="398.4" stroke="#333" stroke-width="0.6"/>
<text x="315.9" y="405" font-size="7" fill="#4d4d4d" text-anchor="middle">Oct 2011</text>
<line x1="392.6" x2="392.6" y1="396.4" y2="398.4" stroke="#333" stroke-width="0.6"/>
<text x="392.6" y="405" font-size="7" fill="#4d4d4d" text-anchor="middle">Jan 2012</text>
<line x1="468.5" x2="468.5" y1="396.4" y2="398.4" stroke="#333" stroke-width="0.6"/>
<text x="468.5" y="405" font-size="7" fill="#4d4d4d" text-anchor="middle">Apr 2012</text>
<line x1="543.9" x2="543.9" y1="396.4" y2="398.4" stroke="#333" stroke-width="0.6"/>
<text x="543.9" y="405" font-size="7" fill="#4d4d4d" text-anchor="middle">Jul 2012</text>
<line x1="620.9" x2="620.9" y1="396.4" y2="398.4" stroke="#333" stroke-width="0.6"/>
<text x="620.9" y="405" font-size="7" fill="#4d4d4d" text-anchor="middle">Oct 2012</text>
<line x1="697.3" x2="697.3" y1="396.4" y2="398.4" stroke="#333" stroke-width="0.6"/>
<text x="697.3" y="405" font-size="7" fill="#4d4d4d" text-anchor="middle">Jan 2013</text>
<text x="724" y="157.6" font-size="9.2" fill="#1a1a1a">CiU</text>
<text x="724" y="172.0" font-size="9.2" fill="#1a1a1a">PSC</text>
<text x="724" y="186.4" font-size="9.2" fill="#1a1a1a">PP</text>
<text x="724" y="200.8" font-size="9.2" fill="#1a1a1a">ICV</text>
<text x="724" y="215.2" font-size="9.2" fill="#1a1a1a">ERC</text>
<text x="724" y="229.6" font-size="9.2" fill="#1a1a1a">Cs</text>
<text x="724" y="244.0" font-size="9.2" fill="#1a1a1a">SI</text>
<text x="724" y="258.4" font-size="9.2" fill="#1a1a1a">CUP</text>
</g>
<rect x="707" y="146.5" width="14" height="115.5" fill="#f2f2f2"/>
<line x1="708" x2="720" y1="154.2" y2="154.2" stroke="#1e2760" stroke-width="2"/>
<line x1="708" x2="720" y1="168.6" y2="168.6" stroke="#cc1e3a" stroke-width="2"/>
<line x1="708" x2="720" y1="183.0" y2="183.0" stroke="#2472bb" stroke-width="2"/>
<line x1="708" x2="720" y1="197.4" y2="197.4" stroke="#3f9440" stroke-width="2"/>
<line x1="708" x2="720" y1="211.8" y2="211.8" stroke="#f2b64c" stroke-width="2"/>
<line x1="708" x2="720" y1="226.2" y2="226.2" stroke="#d0702a" stroke-width="2"/>
<line x1="708" x2="720" y1="240.6" y2="240.6" stroke="#b41a24" stroke-width="2"/>
<line x1="708" x2="720" y1="255.0" y2="255.0" stroke="#f8e020" stroke-width="2"/>
</svg></body></html>
